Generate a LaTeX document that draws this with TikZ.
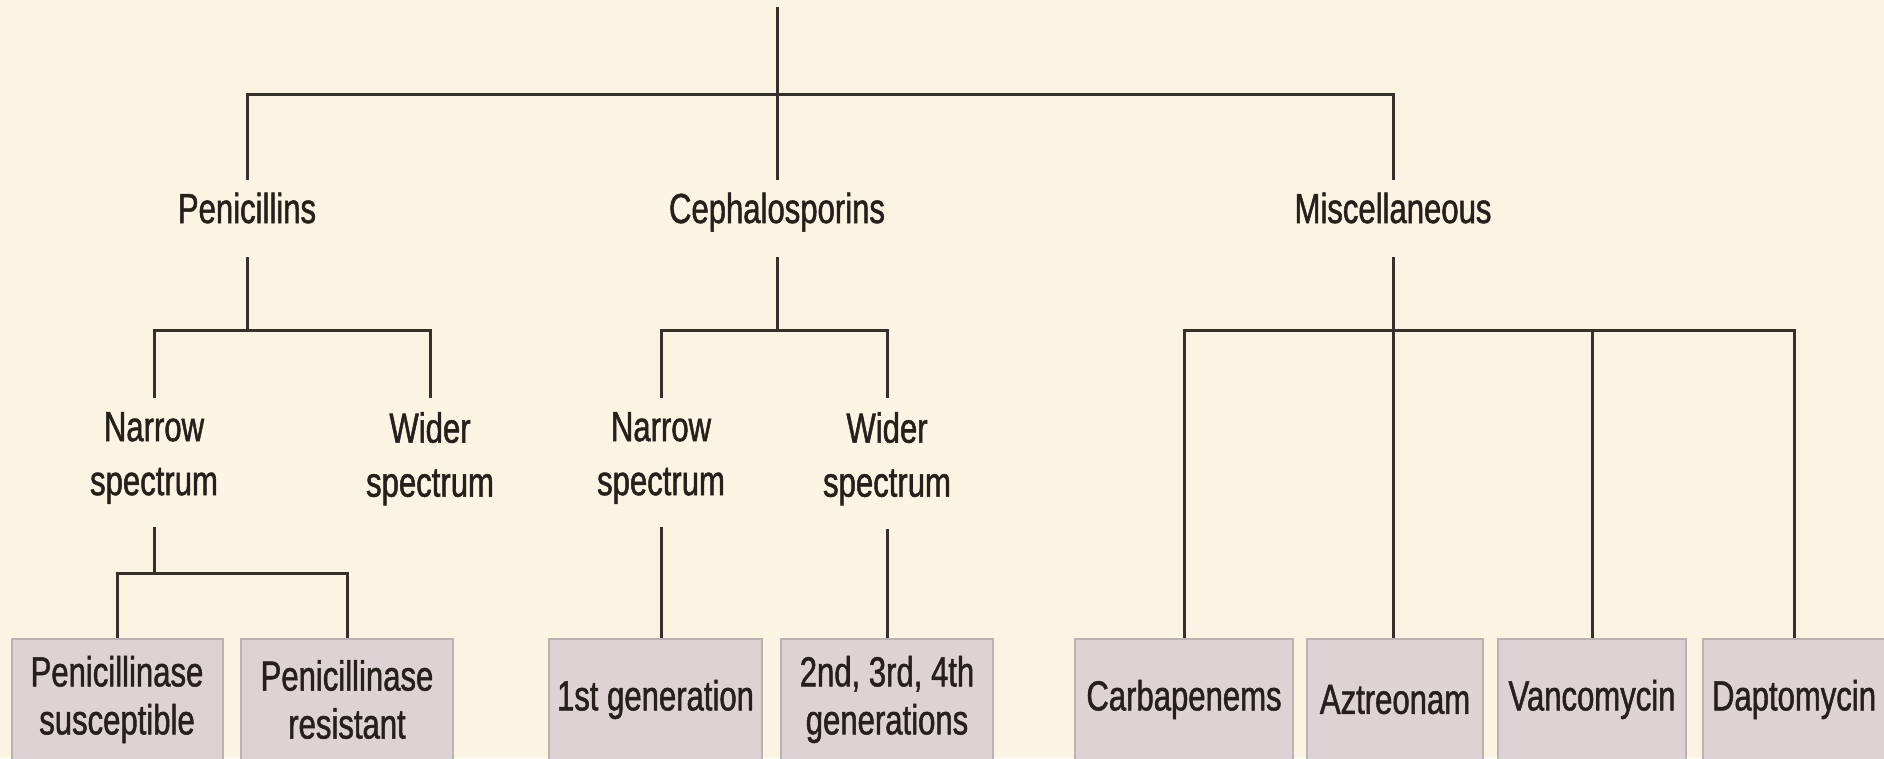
\documentclass[tikz,border=0pt]{standalone}
\usepackage{fontspec}
\setmainfont{Liberation Sans}[FakeStretch=0.74,FakeBold=1.2]
\definecolor{bg}{HTML}{FCF4E3}
\definecolor{linec}{HTML}{35302B}
\definecolor{textc}{HTML}{26201C}
\definecolor{boxf}{HTML}{DDD3D4}
\definecolor{boxb}{HTML}{BDB2B3}
\begin{document}
\begin{tikzpicture}[x=1pt,y=-1pt,
  conn/.style={draw=linec, line width=3pt},
  lbl/.style={inner sep=0pt, text=textc, font=\fontsize{42}{54}\selectfont, align=center},
  toplbl/.style={lbl, text height=31pt, text depth=9pt, anchor=base},
  midlbl/.style={lbl, anchor=north},
  drug/.style={draw=boxb, line width=2pt, fill=boxf, text=textc, inner sep=0pt,
    minimum height=121pt, font=\fontsize{42}{48}\selectfont, align=center, anchor=north}]
\fill[bg] (0,0) rectangle (1884,758);
\useasboundingbox (0,0) rectangle (1884,758);
\clip (0,0) rectangle (1884,758);

% level 1
\node[toplbl] (pen) at (247,223) {Penicillins};
\node[toplbl] (ceph) at (777,223) {Cephalosporins};
\node[toplbl] (misc) at (1393,223) {Miscellaneous};

% level 2
\node[midlbl] (pnar) at (154,412) {Narrow\\spectrum};
\node[midlbl] (pwid) at (430,412) {Wider\\spectrum};
\node[midlbl] (cnar) at (661,412) {Narrow\\spectrum};
\node[midlbl] (cwid) at (887,412) {Wider\\spectrum};

% boxes
\node[drug, minimum width=211pt] (psus) at (117,638) {Penicillinase\\susceptible};
\node[drug, minimum width=212pt] (pres) at (347,638) {Penicillinase\\resistant};
\node[drug, minimum width=213pt] (gen1) at (655.5,638) {1st generation};
\node[drug, minimum width=212pt] (gen2) at (887,638) {2nd, 3rd, 4th\\generations};
\node[drug, minimum width=218pt] (carb) at (1184,638) {Carbapenems};
\node[drug, minimum width=176pt] (azt) at (1395,638) {Aztreonam};
\node[drug, minimum width=188pt] (vanc) at (1592,638) {Vancomycin};
\node[drug, minimum width=182pt] (dapt) at (1794,638) {Daptomycin};

% junctions
\coordinate (root) at (777,7);
\coordinate (j0) at (777,94);
\coordinate (pj) at (247,330);
\coordinate (cj) at (777,330);
\coordinate (mj) at (1393,330);
\coordinate (nj) at (154,573);

% connectors
\draw[conn, shorten >=12pt] (root) -- (ceph.north);
\draw[conn, shorten <=12pt, shorten >=12pt] (pen.north) |- (j0) -| (misc.north);

\draw[conn, shorten <=25pt] (pen.south) -- (pj);
\draw[conn, shorten <=14pt, shorten >=14pt] (pnar.north) |- (pj) -| (pwid.north);

\draw[conn, shorten <=25pt] (ceph.south) -- (cj);
\draw[conn, shorten <=14pt, shorten >=14pt] (cnar.north) |- (cj) -| (cwid.north);

\draw[conn, shorten <=25pt] (misc.south) -- (misc.south |- azt.north);
\draw[conn] (carb.north) |- (mj) -| (dapt.north);
\draw[conn] (vanc.north) -- (vanc.north |- mj);

\draw[conn, shorten <=23pt] (pnar.south) -- (nj);
\draw[conn] (psus.north) |- (nj) -| (pres.north);

\draw[conn, shorten <=23pt] (cnar.south) -- (cnar.south |- gen1.north);
\draw[conn, shorten <=23pt] (cwid.south) -- (gen2.north);
\end{tikzpicture}
\end{document}
